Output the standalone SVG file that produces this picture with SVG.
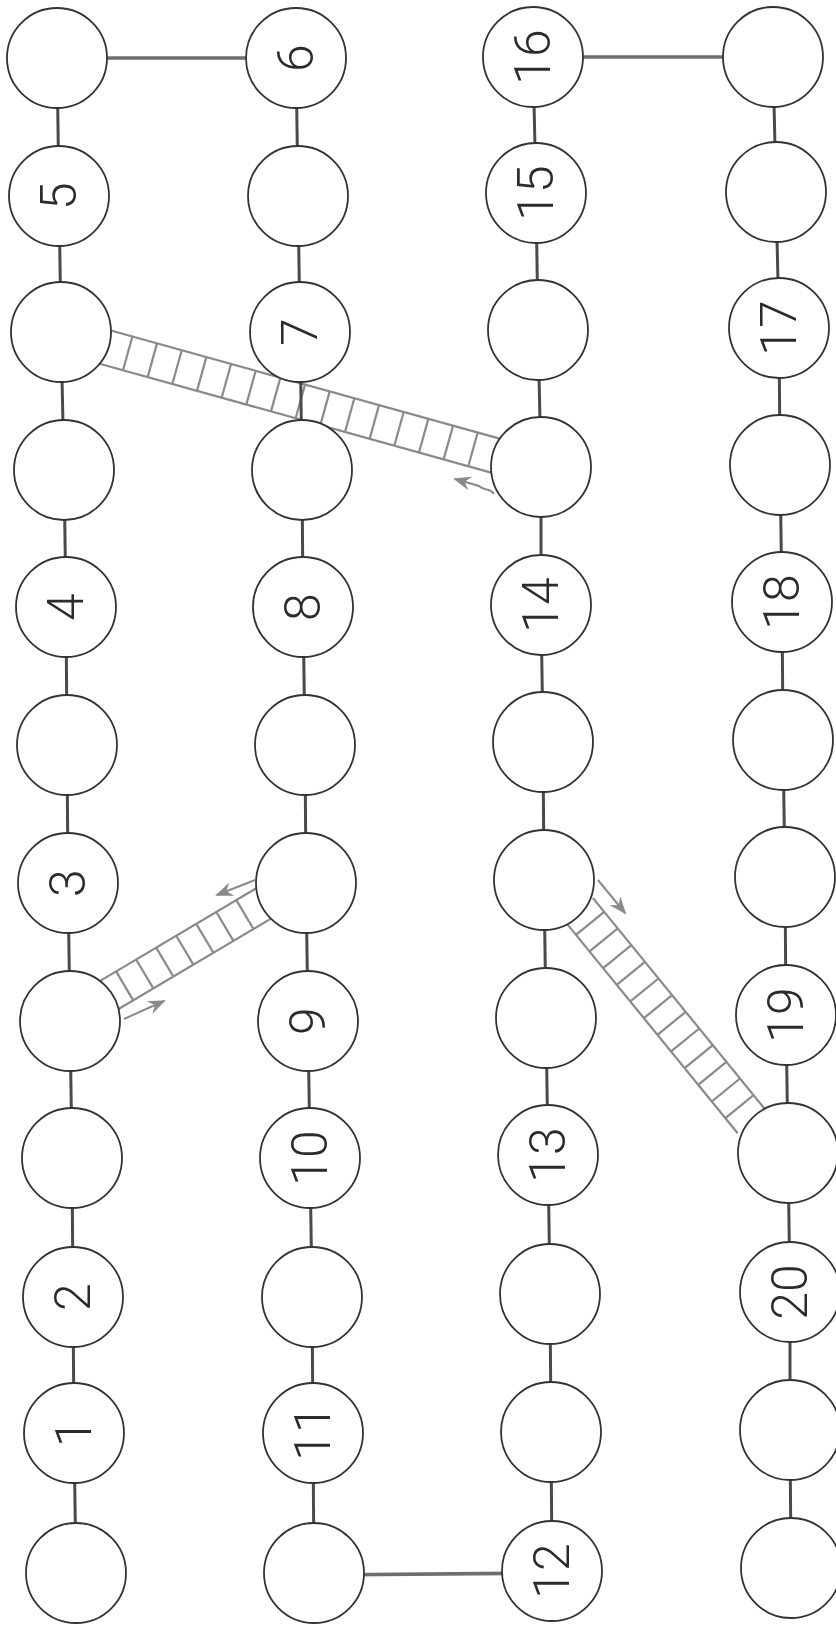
<svg xmlns="http://www.w3.org/2000/svg" width="836" height="1627" viewBox="0 0 836 1627">
<style>
.bg{fill:#ffffff}
.node circle{fill:#ffffff;stroke:#333333;stroke-width:1.8}
.node text{font-family:Roboto,"Liberation Sans",sans-serif;font-weight:300;font-size:50px;fill:#2b2b2b;text-anchor:middle;dominant-baseline:central}
.v{stroke:#4a4a4a;stroke-width:3;stroke-linecap:butt}
.h{stroke:#6e6e6e;stroke-width:3.6}
.rail{stroke:#8a8a8a;stroke-width:2.2;fill:none}
.rung{stroke:#8a8a8a;stroke-width:2.2}
.arr{stroke:#8a8a8a;stroke-width:2;fill:none;marker-end:url(#ah)}
</style>
<defs>
<marker id="ah" markerUnits="userSpaceOnUse" markerWidth="20" markerHeight="16" refX="16" refY="7" orient="auto">
<path d="M0,0 L18,7 L0,14 L6,7 z" fill="#8a8a8a"/>
</marker>
</defs>
<rect class="bg" x="0" y="0" width="836" height="1627"/>

<g id="ladders">
<g id="ladder1" transform="translate(106.5,347.5) rotate(15.54)">
<line class="rail" x1="-6" y1="-17.5" x2="406" y2="-17.5"/>
<line class="rail" x1="-6" y1="17.5" x2="406" y2="17.5"/>
<line class="rung" x1="22" y1="-17.5" x2="22" y2="17.5"/>
<line class="rung" x1="47.6" y1="-17.5" x2="47.6" y2="17.5"/>
<line class="rung" x1="73.2" y1="-17.5" x2="73.2" y2="17.5"/>
<line class="rung" x1="98.8" y1="-17.5" x2="98.8" y2="17.5"/>
<line class="rung" x1="124.4" y1="-17.5" x2="124.4" y2="17.5"/>
<line class="rung" x1="150" y1="-17.5" x2="150" y2="17.5"/>
<line class="rung" x1="175.6" y1="-17.5" x2="175.6" y2="17.5"/>
<line class="rung" x1="201.2" y1="-17.5" x2="201.2" y2="17.5"/>
<line class="rung" x1="226.8" y1="-17.5" x2="226.8" y2="17.5"/>
<line class="rung" x1="252.4" y1="-17.5" x2="252.4" y2="17.5"/>
<line class="rung" x1="278" y1="-17.5" x2="278" y2="17.5"/>
<line class="rung" x1="303.6" y1="-17.5" x2="303.6" y2="17.5"/>
<line class="rung" x1="329.2" y1="-17.5" x2="329.2" y2="17.5"/>
<line class="rung" x1="354.8" y1="-17.5" x2="354.8" y2="17.5"/>
<line class="rung" x1="380.4" y1="-17.5" x2="380.4" y2="17.5"/>
</g>
<g id="ladder2" transform="translate(113.5,992.5) rotate(-30.68)">
<line class="rail" x1="-6" y1="-16.8" x2="176" y2="-16.8"/>
<line class="rail" x1="-6" y1="16.8" x2="176" y2="16.8"/>
<line class="rung" x1="13" y1="-16.8" x2="13" y2="16.8"/>
<line class="rung" x1="36.3" y1="-16.8" x2="36.3" y2="16.8"/>
<line class="rung" x1="59.6" y1="-16.8" x2="59.6" y2="16.8"/>
<line class="rung" x1="82.9" y1="-16.8" x2="82.9" y2="16.8"/>
<line class="rung" x1="106.2" y1="-16.8" x2="106.2" y2="16.8"/>
<line class="rung" x1="129.5" y1="-16.8" x2="129.5" y2="16.8"/>
<line class="rung" x1="152.8" y1="-16.8" x2="152.8" y2="16.8"/>
</g>
<g id="ladder3" transform="translate(582.5,914) rotate(50.83)">
<line class="rail" x1="-6" y1="-18.2" x2="268" y2="-18.2"/>
<line class="rail" x1="-6" y1="18.2" x2="268" y2="18.2"/>
<line class="rung" x1="12" y1="-18.2" x2="12" y2="18.2"/>
<line class="rung" x1="33.5" y1="-18.2" x2="33.5" y2="18.2"/>
<line class="rung" x1="55" y1="-18.2" x2="55" y2="18.2"/>
<line class="rung" x1="76.5" y1="-18.2" x2="76.5" y2="18.2"/>
<line class="rung" x1="98" y1="-18.2" x2="98" y2="18.2"/>
<line class="rung" x1="119.5" y1="-18.2" x2="119.5" y2="18.2"/>
<line class="rung" x1="141" y1="-18.2" x2="141" y2="18.2"/>
<line class="rung" x1="162.5" y1="-18.2" x2="162.5" y2="18.2"/>
<line class="rung" x1="184" y1="-18.2" x2="184" y2="18.2"/>
<line class="rung" x1="205.5" y1="-18.2" x2="205.5" y2="18.2"/>
<line class="rung" x1="227" y1="-18.2" x2="227" y2="18.2"/>
<line class="rung" x1="248.5" y1="-18.2" x2="248.5" y2="18.2"/>
</g>
</g>

<g id="connectors">
<line class="h" x1="57" y1="58" x2="296" y2="58"/>
<line class="h" x1="533" y1="57" x2="773" y2="57"/>
<line class="h" x1="314" y1="1575" x2="552" y2="1573"/>
<line class="v" x1="57" y1="58" x2="59" y2="196"/>
<line class="v" x1="59" y1="196" x2="61" y2="332"/>
<line class="v" x1="61" y1="332" x2="64" y2="470"/>
<line class="v" x1="64" y1="470" x2="66" y2="607"/>
<line class="v" x1="66" y1="607" x2="67" y2="745"/>
<line class="v" x1="67" y1="745" x2="68" y2="883"/>
<line class="v" x1="68" y1="883" x2="70" y2="1021"/>
<line class="v" x1="70" y1="1021" x2="72" y2="1158"/>
<line class="v" x1="72" y1="1158" x2="73" y2="1297"/>
<line class="v" x1="73" y1="1297" x2="74" y2="1433"/>
<line class="v" x1="74" y1="1433" x2="76" y2="1573"/>
<line class="v" x1="296" y1="58" x2="298" y2="196"/>
<line class="v" x1="298" y1="196" x2="300" y2="332"/>
<line class="v" x1="300" y1="332" x2="302" y2="470"/>
<line class="v" x1="302" y1="470" x2="303" y2="607"/>
<line class="v" x1="303" y1="607" x2="305" y2="745"/>
<line class="v" x1="305" y1="745" x2="306" y2="883"/>
<line class="v" x1="306" y1="883" x2="308" y2="1021"/>
<line class="v" x1="308" y1="1021" x2="310" y2="1158"/>
<line class="v" x1="310" y1="1158" x2="312" y2="1297"/>
<line class="v" x1="312" y1="1297" x2="313" y2="1433"/>
<line class="v" x1="313" y1="1433" x2="314" y2="1573"/>
<line class="v" x1="533" y1="57" x2="536" y2="193"/>
<line class="v" x1="536" y1="193" x2="538" y2="330"/>
<line class="v" x1="538" y1="330" x2="541" y2="467"/>
<line class="v" x1="541" y1="467" x2="541" y2="605"/>
<line class="v" x1="541" y1="605" x2="543" y2="742"/>
<line class="v" x1="543" y1="742" x2="544" y2="880"/>
<line class="v" x1="544" y1="880" x2="546" y2="1018"/>
<line class="v" x1="546" y1="1018" x2="548" y2="1155"/>
<line class="v" x1="548" y1="1155" x2="550" y2="1294"/>
<line class="v" x1="550" y1="1294" x2="551" y2="1432"/>
<line class="v" x1="551" y1="1432" x2="552" y2="1571"/>
<line class="v" x1="773" y1="57" x2="776" y2="192"/>
<line class="v" x1="776" y1="192" x2="779" y2="328"/>
<line class="v" x1="779" y1="328" x2="780" y2="465"/>
<line class="v" x1="780" y1="465" x2="782" y2="602"/>
<line class="v" x1="782" y1="602" x2="783" y2="740"/>
<line class="v" x1="783" y1="740" x2="785" y2="877"/>
<line class="v" x1="785" y1="877" x2="786" y2="1015"/>
<line class="v" x1="786" y1="1015" x2="788" y2="1153"/>
<line class="v" x1="788" y1="1153" x2="790" y2="1292"/>
<line class="v" x1="790" y1="1292" x2="790" y2="1430"/>
<line class="v" x1="790" y1="1430" x2="791" y2="1568"/>
<path class="arr" d="M494,494 C489,487 485,492 479,486 L455,479"/>
<path class="arr" d="M124,1019 L164,1001"/>
<path class="arr" d="M255,880 L217,895"/>
<path class="arr" d="M598,880 L625,913"/>
</g>

<g id="c1r0" class="node"><circle cx="57" cy="58" r="50"/></g>
<g id="c1r1" class="node"><circle cx="59" cy="196" r="50"/><text x="59" y="196" transform="rotate(-90 59 196)">5</text></g>
<g id="c1r2" class="node"><circle cx="61" cy="332" r="50"/></g>
<g id="c1r3" class="node"><circle cx="64" cy="470" r="50"/></g>
<g id="c1r4" class="node"><circle cx="66" cy="607" r="50"/><text x="66" y="607" transform="rotate(-90 66 607)">4</text></g>
<g id="c1r5" class="node"><circle cx="67" cy="745" r="50"/></g>
<g id="c1r6" class="node"><circle cx="68" cy="883" r="50"/><text x="68" y="883" transform="rotate(-90 68 883)">3</text></g>
<g id="c1r7" class="node"><circle cx="70" cy="1021" r="50"/></g>
<g id="c1r8" class="node"><circle cx="72" cy="1158" r="50"/></g>
<g id="c1r9" class="node"><circle cx="73" cy="1297" r="50"/><text x="73" y="1297" transform="rotate(-90 73 1297)">2</text></g>
<g id="c1r10" class="node"><circle cx="74" cy="1433" r="50"/><text x="74" y="1433" transform="rotate(-90 74 1433)">1</text></g>
<g id="c1r11" class="node"><circle cx="76" cy="1573" r="50"/></g>

<g id="c2r0" class="node"><circle cx="296" cy="58" r="50"/><text x="296" y="58" transform="rotate(-90 296 58)">6</text></g>
<g id="c2r1" class="node"><circle cx="298" cy="196" r="50"/></g>
<g id="c2r2" class="node"><circle cx="300" cy="332" r="50"/><text x="300" y="332" transform="rotate(-90 300 332)">7</text></g>
<g id="c2r3" class="node"><circle cx="302" cy="470" r="50"/></g>
<g id="c2r4" class="node"><circle cx="303" cy="607" r="50"/><text x="303" y="607" transform="rotate(-90 303 607)">8</text></g>
<g id="c2r5" class="node"><circle cx="305" cy="745" r="50"/></g>
<g id="c2r6" class="node"><circle cx="306" cy="883" r="50"/></g>
<g id="c2r7" class="node"><circle cx="308" cy="1021" r="50"/><text x="308" y="1021" transform="rotate(-90 308 1021)">9</text></g>
<g id="c2r8" class="node"><circle cx="310" cy="1158" r="50"/><text x="310" y="1158" transform="rotate(-90 310 1158)">10</text></g>
<g id="c2r9" class="node"><circle cx="312" cy="1297" r="50"/></g>
<g id="c2r10" class="node"><circle cx="313" cy="1433" r="50"/><text x="313" y="1433" transform="rotate(-90 313 1433)">11</text></g>
<g id="c2r11" class="node"><circle cx="314" cy="1573" r="50"/></g>

<g id="c3r0" class="node"><circle cx="533" cy="57" r="50"/><text x="533" y="57" transform="rotate(-90 533 57)">16</text></g>
<g id="c3r1" class="node"><circle cx="536" cy="193" r="50"/><text x="536" y="193" transform="rotate(-90 536 193)">15</text></g>
<g id="c3r2" class="node"><circle cx="538" cy="330" r="50"/></g>
<g id="c3r3" class="node"><circle cx="541" cy="467" r="50"/></g>
<g id="c3r4" class="node"><circle cx="541" cy="605" r="50"/><text x="541" y="605" transform="rotate(-90 541 605)">14</text></g>
<g id="c3r5" class="node"><circle cx="543" cy="742" r="50"/></g>
<g id="c3r6" class="node"><circle cx="544" cy="880" r="50"/></g>
<g id="c3r7" class="node"><circle cx="546" cy="1018" r="50"/></g>
<g id="c3r8" class="node"><circle cx="548" cy="1155" r="50"/><text x="548" y="1155" transform="rotate(-90 548 1155)">13</text></g>
<g id="c3r9" class="node"><circle cx="550" cy="1294" r="50"/></g>
<g id="c3r10" class="node"><circle cx="551" cy="1432" r="50"/></g>
<g id="c3r11" class="node"><circle cx="552" cy="1571" r="50"/><text x="552" y="1571" transform="rotate(-90 552 1571)">12</text></g>

<g id="c4r0" class="node"><circle cx="773" cy="57" r="50"/></g>
<g id="c4r1" class="node"><circle cx="776" cy="192" r="50"/></g>
<g id="c4r2" class="node"><circle cx="779" cy="328" r="50"/><text x="779" y="328" transform="rotate(-90 779 328)">17</text></g>
<g id="c4r3" class="node"><circle cx="780" cy="465" r="50"/></g>
<g id="c4r4" class="node"><circle cx="782" cy="602" r="50"/><text x="782" y="602" transform="rotate(-90 782 602)">18</text></g>
<g id="c4r5" class="node"><circle cx="783" cy="740" r="50"/></g>
<g id="c4r6" class="node"><circle cx="785" cy="877" r="50"/></g>
<g id="c4r7" class="node"><circle cx="786" cy="1015" r="50"/><text x="786" y="1015" transform="rotate(-90 786 1015)">19</text></g>
<g id="c4r8" class="node"><circle cx="788" cy="1153" r="50"/></g>
<g id="c4r9" class="node"><circle cx="790" cy="1292" r="50"/><text x="790" y="1292" transform="rotate(-90 790 1292)">20</text></g>
<g id="c4r10" class="node"><circle cx="790" cy="1430" r="50"/></g>
<g id="c4r11" class="node"><circle cx="791" cy="1568" r="50"/></g>
</svg>
